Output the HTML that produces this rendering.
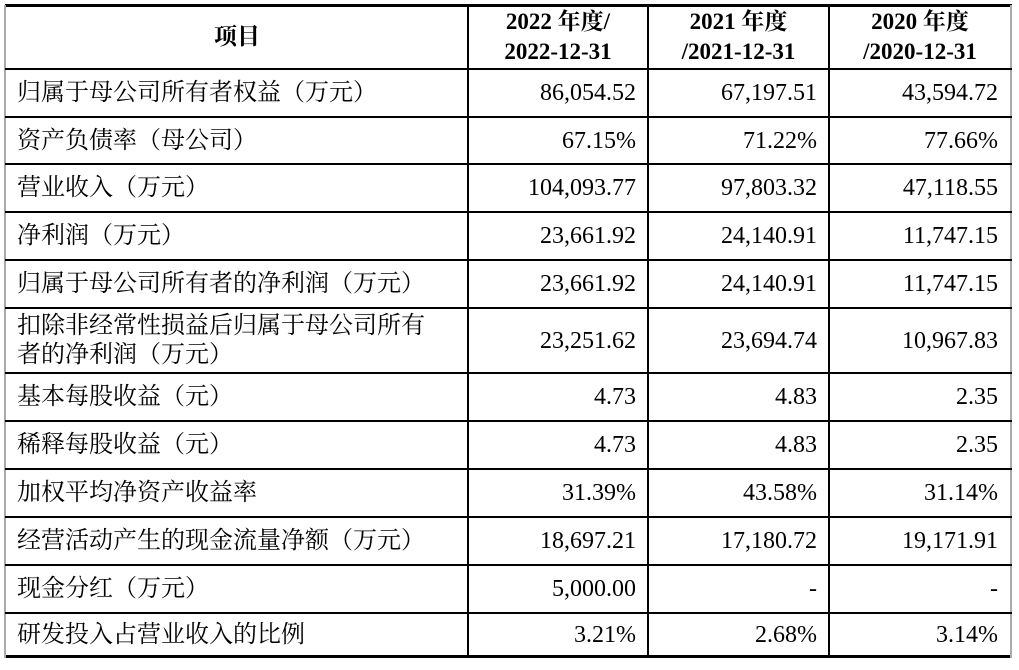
<!DOCTYPE html>
<html><head><meta charset="utf-8"><style>
body{margin:0;width:1019px;height:670px;background:#fff;position:relative;overflow:hidden;font-family:"Liberation Serif","Noto Serif CJK SC",serif;color:#000}
.h{position:absolute;left:5px;width:1007px;background:#000}
.v{position:absolute;top:5px;height:653px;background:#000;width:2px}
.c{position:absolute;font-size:24px;display:flex;align-items:center;line-height:29px;white-space:nowrap}
.n{justify-content:flex-end}
.hd{font-weight:bold;justify-content:center;text-align:center;font-size:23px;line-height:30px}
</style></head><body>
<div class="h" style="top:4px;height:3px"></div>
<div class="h" style="top:655px;height:3px"></div>
<div style="position:absolute;left:4px;top:5px;width:2px;height:653px;background:#aaa"></div>
<div style="position:absolute;left:1010px;top:5px;width:2px;height:653px;background:#aaa"></div>
<div class="v" style="left:467px"></div>
<div class="v" style="left:647px"></div>
<div class="v" style="left:828px"></div>
<div id="t"></div>
<script>
const lines=[69,117,164,212,260,308,373,421,469,517,565,613,657];
const labels=["归属于母公司所有者权益（万元）","资产负债率（母公司）","营业收入（万元）","净利润（万元）","归属于母公司所有者的净利润（万元）","扣除非经常性损益后归属于母公司所有<br>者的净利润（万元）","基本每股收益（元）","稀释每股收益（元）","加权平均净资产收益率","经营活动产生的现金流量净额（万元）","现金分红（万元）","研发投入占营业收入的比例"];
const v2022=["86,054.52","67.15%","104,093.77","23,661.92","23,661.92","23,251.62","4.73","4.73","31.39%","18,697.21","5,000.00","3.21%"];
const v2021=["67,197.51","71.22%","97,803.32","24,140.91","24,140.91","23,694.74","4.83","4.83","43.58%","17,180.72","-","2.68%"];
const v2020=["43,594.72","77.66%","47,118.55","11,747.15","11,747.15","10,967.83","2.35","2.35","31.14%","19,171.91","-","3.14%"];
const t=document.getElementById('t');
function cell(cls,x,w,y,h,html,name){const d=document.createElement('div');d.className='c '+cls;d.style.left=x+'px';d.style.width=w+'px';d.style.top=y+'px';d.style.height=h+'px';d.innerHTML=html;


t.appendChild(d);}
cell('hd',7,460,5,64,'项目','header-item');
cell('hd',469,178,5,64,'2022 年度/<br>2022-12-31','header-2022');
cell('hd',649,179,5,64,'2021 年度<br>/2021-12-31','header-2021');
cell('hd',830,180,5,64,'2020 年度<br>/2020-12-31','header-2020');
for(let i=0;i<labels.length;i++){
 const y=lines[i]+1,h=lines[i+1]-lines[i]-1;
 const hl=document.createElement('div');hl.className='h';hl.style.top=(lines[i]-1)+'px';hl.style.height='2px';
 
 
 t.appendChild(hl);
 cell('l',17,445,y,h,labels[i],'row-label');
 cell('n',469,167,y,h,v2022[i],'value-2022');
 cell('n',649,168,y,h,v2021[i],'value-2021');
 cell('n',830,168,y,h,v2020[i],'value-2020');
}
</script>
</body></html>
